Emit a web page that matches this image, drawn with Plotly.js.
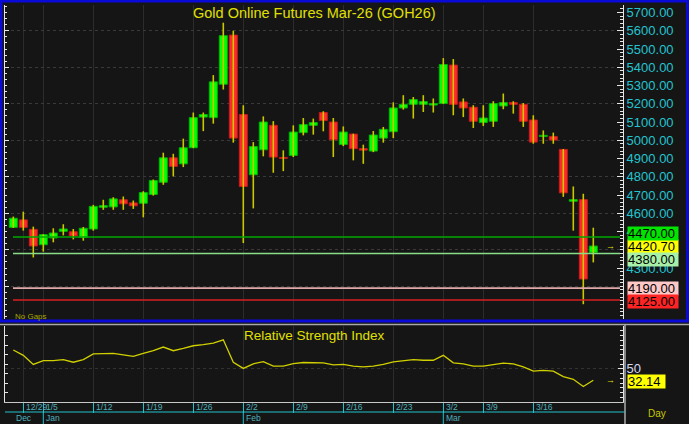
<!DOCTYPE html>
<html><head><meta charset="utf-8">
<script src="https://cdn.plot.ly/plotly-3.0.1.min.js"></script>
<style>html,body{margin:0;padding:0;background:#151515;}#chart{width:689px;height:424px;}</style>
</head><body><div id="chart"></div>
<script>
// ---- data (daily candles, Dec 26 .. Mar 20) ----
const openP  = [4523,4564,4512,4428,4465,4501,4499,4468,4514,4633,4635,4674,4657,4655,4703,4770,4904,4871,4959,5127,5124,5307,5576,5141,4811,4948,5082,4906,4917,5042,5082,5152,5100,4977,5034,4954,4941,5012,5047,5177,5197,5197,5193,5201,5412,5210,5181,5097,5104,5188,5207,5197,5111,5021,5021,4950,4666,4675,4386];
const highP  = [4582,4609,4527,4485,4518,4540,4514,4525,4646,4674,4688,4692,4670,4721,4785,4932,4926,5009,5152,5152,5357,5644,5600,5192,4990,5131,5105,4945,5082,5122,5119,5159,5122,5076,5036,4976,5051,5073,5208,5247,5237,5247,5229,5450,5445,5229,5192,5192,5214,5256,5214,5204,5137,5054,5042,4952,4747,4707,4521];
const lowP   = [4520,4505,4358,4390,4441,4479,4457,4450,4505,4619,4619,4619,4624,4578,4697,4756,4802,4853,4957,5050,5091,5278,4987,4437,4627,4912,4822,4831,4908,5027,5031,5049,4908,4968,4890,4871,4935,4987,5012,5168,5119,5155,5152,5200,5137,5127,5067,5078,5073,5170,5146,5073,4981,4981,4981,4690,4505,4102,4331];
const closeP = [4573,4523,4421,4483,4492,4514,4476,4518,4638,4642,4679,4652,4641,4714,4780,4904,4857,4959,5124,5141,5320,5573,5012,4747,4966,5100,4908,4901,5045,5086,5097,5108,5003,5045,4954,4946,5029,5060,5177,5197,5223,5212,5201,5415,5197,5177,5104,5122,5201,5207,5197,5104,4990,5027,5001,4712,4675,4240,4420.7];
const rsiVals = [76.7,68.8,55.3,61.1,61.1,62.5,58.6,62.5,70.8,70.8,71.7,69.4,67.3,71.7,75.6,81.0,75.6,79.0,82.9,84.4,86.8,91.6,58.6,49.5,56.3,59.6,52.8,52.8,56.7,58.2,58.2,57.7,54.8,55.3,52.8,51.9,52.8,55.3,59.2,61.1,62.5,61.5,61.5,68.8,57.7,56.3,52.8,52.8,55.3,57.2,56.3,51.9,45.5,46.5,45.5,37.4,33.5,22.8,32.14];
const weekIdx  = [1,3,8,13,18,23,28,33,38,43,47,52];
const weekText = ['12/29','1/5','1/12','1/19','1/26','2/2','2/9','2/16','2/23','3/2','3/9','3/16'];
const monthIdx  = [0,3,23,43];
const monthText = ['Dec','Jan','Feb','Mar'];
const priceTicks = [4300,4500,4600,4700,4800,4900,5000,5100,5200,5300,5400,5500,5600,5700];
const levels     = [4470,4380,4190,4125];
const levelLine  = ['#00a800','#88dd88','#e0a8a8','#d82020'];
const levelBg    = ['#00e400','#a8f0a8','#ffc8c8','#ff2424'];
const levelShift = [4,-6,0,-1];
const lastPrice = 4420.70;
const lastRsi = 32.14;
const titleText = 'Gold Online Futures Mar-26 (GOH26)';
const rsiTitle = 'Relative Strength Index';

// ---- helpers ----
const W = 689, H = 424;
const py = v => 1 - v / H;
const px = v => v / W;
const FONT = 'Liberation Sans, Arial, sans-serif';

const idx = openP.map((_, i) => i);
const wx = [], wy = [];
idx.forEach(i => { wx.push(i, i, null); wy.push(lowP[i], highP[i], null); });
const up = idx.map(i => closeP[i] >= openP[i]);
const bodyBase = idx.map(i => Math.min(openP[i], closeP[i]));
const bodyH = idx.map(i => Math.abs(closeP[i] - openP[i]));

const traces = [
  {type:'scatter', mode:'lines', x:wx, y:wy, xaxis:'x', yaxis:'y', line:{color:'#c8c800', width:1.6}, hoverinfo:'skip', connectgaps:false},
  {type:'bar', x:idx, y:bodyH, base:bodyBase, width:0.8, xaxis:'x', yaxis:'y',
   marker:{color: up.map(u => u ? '#00ff00' : '#ff2a2a'), line:{color: up.map(u => u ? '#00b400' : '#c41c1c'), width:1}}, hoverinfo:'skip'},
  {type:'scatter', mode:'lines', x:idx, y:rsiVals, xaxis:'x2', yaxis:'y2', line:{color:'#d0d000', width:1.3}, hoverinfo:'skip'},
  {type:'scatter', mode:'lines', x:[null], y:[null], xaxis:'x', yaxis:'y3', hoverinfo:'skip'},
  {type:'scatter', mode:'lines', x:[null], y:[null], xaxis:'x2', yaxis:'y4', hoverinfo:'skip'}
];

const xDom = [px(5), px(623)];
const topDom = [py(319), py(5)];
const rsiDom = [py(402), py(326)];
const xRange = [-0.83, 60.97];
const yRange = [4021, 5741];
const rRange = [0, 112];

const A = (o) => Object.assign({showarrow:false, yanchor:'middle'}, o);
const tag = (o) => A(Object.assign({xref:'paper', x:px(627), xanchor:'left', borderpad:0, height:13, width:50, align:'left', valign:'middle'}, o));
const annotations = [
  A({text:titleText, xref:'paper', yref:'paper', x:px(314), y:py(13), font:{family:FONT, size:14.5, color:'#e0e000'}}),
  A({text:rsiTitle, xref:'paper', yref:'paper', x:px(314), y:py(335), font:{family:FONT, size:13.5, color:'#e0e000'}}),
  A({text:'No Gaps', xref:'paper', yref:'paper', x:px(13), y:py(316), xanchor:'left', font:{family:FONT, size:8, color:'#a8a800'}}),
  A({text:'Day', xref:'paper', yref:'paper', x:px(668), y:py(413), font:{family:FONT, size:10, color:'#c8c800'}}),
  A({text:'→', xref:'paper', yref:'y', x:px(617), y:lastPrice, font:{family:FONT, size:9, color:'#e0e000'}}),
  A({text:'→', xref:'paper', yref:'y2', x:px(617), y:lastRsi, font:{family:FONT, size:9, color:'#e0e000'}}),
  tag({text:lastPrice.toFixed(2), yref:'y', y:lastPrice, bgcolor:'#ffff00', font:{family:FONT, size:13, color:'#000'}}),
  tag({text:lastRsi.toFixed(2), yref:'y2', y:lastRsi, yshift:-1, width:37, bgcolor:'#ffff00', font:{family:FONT, size:13, color:'#000'}})
];
levels.forEach((lv, k) => annotations.push(tag({text:lv.toFixed(2), yref:'y', y:lv, yshift:levelShift[k], bgcolor:levelBg[k], font:{family:FONT, size:13, color:'#000'}})));
weekIdx.forEach((v, k) => annotations.push(A({text:weekText[k], xref:'x2', yref:'paper', x:v, xshift:1, y:py(407), xanchor:'left', font:{family:FONT, size:8.5, color:'#4fb0bc'}})));
monthIdx.forEach((v, k) => annotations.push(A({text:monthText[k], xref:'x2', yref:'paper', x:v, xshift:1, y:py(418), xanchor:'left', font:{family:FONT, size:8.5, color:'#4fb0bc'}})));

const shapes = [];
levels.forEach((lv, k) => shapes.push({type:'line', xref:'paper', yref:'y', x0:px(13), x1:px(620), y0:lv, y1:lv, line:{color:levelLine[k], width:1.6}}));
shapes.push({type:'rect', xref:'paper', yref:'paper', x0:px(1), x1:px(687.5), y0:py(321), y1:py(1), line:{color:'#0a0ad8', width:3}});
shapes.push({type:'line', xref:'paper', yref:'paper', x0:0, x1:1, y0:py(324.5), y1:py(324.5), line:{color:'#a8a8a8', width:1.5}});
shapes.push({type:'line', xref:'paper', yref:'paper', x0:px(625), x1:px(625), y0:py(325), y1:0, line:{color:'#d0d0d0', width:1.2}});
shapes.push({type:'line', xref:'paper', yref:'paper', x0:px(5), x1:px(625), y0:py(412), y1:py(412), line:{color:'#20c4cc', width:1.2}});
monthIdx.slice(1).forEach(v => shapes.push({type:'line', xref:'x2', yref:'paper', x0:v, x1:v, y0:py(412), y1:0, line:{color:'#20c4cc', width:1}}));

const tickCol = '#e6e6e6';
const layout = {
  width:W, height:H, margin:{l:0, r:0, t:0, b:0},
  paper_bgcolor:'#151515', plot_bgcolor:'#151515',
  showlegend:false, barmode:'overlay', bargap:0,
  font:{family:FONT, color:'#dddddd'},
  xaxis:{domain:xDom, range:xRange, anchor:'y', tickmode:'array', tickvals:weekIdx, showticklabels:false, ticks:'', showgrid:true, gridcolor:'#2c2c2c', gridwidth:1, zeroline:false, showline:false, fixedrange:true},
  yaxis:{domain:topDom, range:yRange, anchor:'x', side:'right', tickmode:'array', tickvals:priceTicks, tickformat:'.2f',
    tickfont:{family:FONT, size:13, color:'#22c4cf'}, ticks:'inside', ticklen:6, tickcolor:tickCol, tickwidth:1,
    minor:{tickmode:'linear', tick0:0, dtick:20, ticks:'inside', ticklen:3, tickcolor:tickCol, showgrid:false},
    showgrid:false, zeroline:false, showline:true, linecolor:tickCol, linewidth:1},
  yaxis3:{overlaying:'y', anchor:'x', side:'left', range:yRange, tickmode:'linear', tick0:0, dtick:200, showticklabels:false,
    ticks:'inside', ticklen:4, tickcolor:tickCol,
    minor:{tickmode:'linear', tick0:0, dtick:200/6, ticks:'inside', ticklen:2, tickcolor:tickCol, showgrid:false},
    showgrid:true, gridcolor:'#3a3a3a', griddash:'dot', zeroline:false, showline:true, linecolor:tickCol},
  xaxis2:{domain:xDom, range:xRange, anchor:'y2', matches:'x', tickmode:'array', tickvals:weekIdx, ticktext:weekIdx.map(() => ''), showticklabels:false,
    ticks:'outside', ticklen:10, tickcolor:'#20c4cc', tickwidth:1, showgrid:true, gridcolor:'#2c2c2c', zeroline:false, showline:true, linecolor:'#c8c8c8'},
  yaxis2:{domain:rsiDom, range:rRange, anchor:'x2', side:'right', tickmode:'array', tickvals:[50], ticktext:['50'],
    tickfont:{family:FONT, size:13, color:'#d8d8f0'}, ticks:'inside', ticklen:5, tickcolor:tickCol,
    minor:{tickmode:'linear', tick0:0, dtick:7, ticks:'inside', ticklen:3, tickcolor:tickCol, showgrid:false},
    showgrid:true, gridcolor:'#333333', griddash:'dot', zeroline:false, showline:true, linecolor:tickCol},
  yaxis4:{overlaying:'y2', anchor:'x2', side:'left', range:rRange, showticklabels:false, tickmode:'linear', tick0:0, dtick:14,
    ticks:'inside', ticklen:3, tickcolor:tickCol, showgrid:false, zeroline:false, showline:true, linecolor:tickCol},
  annotations, shapes
};

Plotly.newPlot('chart', traces, layout, {staticPlot:true, displayModeBar:false});
</script>
</body></html>
